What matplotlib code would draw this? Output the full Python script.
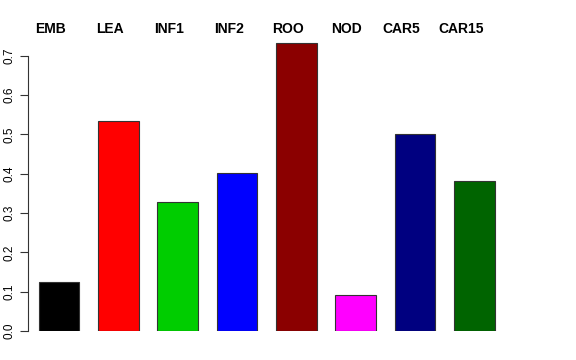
import numpy as np
import matplotlib
matplotlib.use('Agg')
import matplotlib.pyplot as plt

tissues = ['EMB', 'LEA', 'INF1', 'INF2', 'ROO', 'NOD', 'CAR5', 'CAR15']
values = [0.125, 0.535, 0.328, 0.401, 0.733, 0.092, 0.500, 0.381]
bar_colors = ['#000000', '#FF0000', '#00CD00', '#0000FF',
              '#8B0000', '#FF00FF', '#000080', '#006400']
y_ticks = [0.0, 0.1, 0.2, 0.3, 0.4, 0.5, 0.6, 0.7]

plt.rcParams['font.family'] = ['Liberation Sans', 'DejaVu Sans']

W, H = 576, 360
fig = plt.figure(figsize=(W / 100, H / 100), dpi=100)
# plot region in pixels: left 28, right 504, top 40, bottom 331
ax = fig.add_axes([28 / W, 1 - 331 / H, (504 - 28) / W, (331 - 40) / H])

x = np.arange(len(tissues))
ax.bar(x, values, width=0.69, color=bar_colors, edgecolor='#333333', linewidth=0.8)
ax.set_xlim(-0.523, 7.5)
ax.set_ylim(0, 0.74)

for side in ['top', 'right', 'bottom']:
    ax.spines[side].set_visible(False)
ax.spines['left'].set_bounds(0, 0.7)
ax.spines['left'].set_color('#333333')
ax.set_xticks([])
ax.set_yticks(y_ticks)
ax.set_yticklabels(['%.1f' % t for t in y_ticks], rotation=90, va='center', fontsize=8.5)
ax.tick_params(axis='y', length=6, width=0.8, color='#333333', pad=3)

# labels over the bars, a bit left of the bar centres as in the original
label_x = [51, 110, 169, 229, 288, 347, 401, 461]
for name, px in zip(tissues, label_x):
    fig.text(px / W, 1 - 29 / H, name, ha='center', va='center',
             fontsize=10, fontweight='bold')

fig.savefig('out.png', dpi=100)
